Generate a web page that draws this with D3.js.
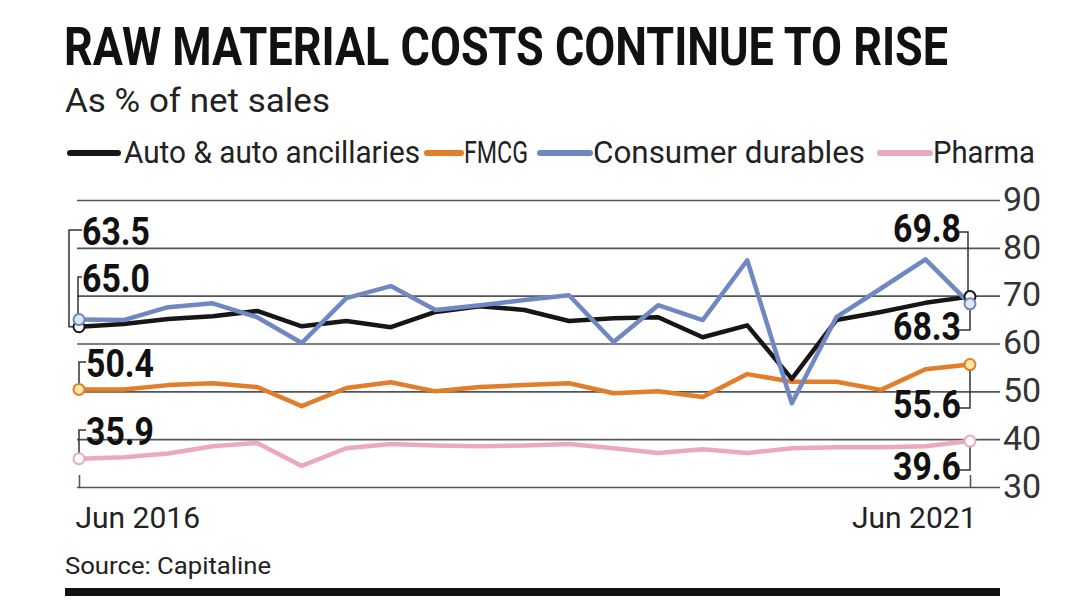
<!DOCTYPE html>
<html>
<head>
<meta charset="utf-8">
<script src="https://cdn.jsdelivr.net/npm/d3@7"></script>
<style>
  body { margin: 0; background: #fff; }
  text { font-family: Roboto, "Liberation Sans", sans-serif; }
</style>
</head>
<body>
<svg id="chart" width="1090" height="613"></svg>
<script>
// quarters Jun 2016 .. Jun 2021
var quarters = d3.range(21);
var xLabels = ["Jun 2016", "Jun 2021"];
var yTicks = [30, 40, 50, 60, 70, 80, 90];

var seriesNames = ["Auto & auto ancillaries", "FMCG", "Consumer durables", "Pharma"];
var auto = [63.5, 64.1, 65.1, 65.7, 66.8, 63.6, 64.7, 63.4, 66.6, 67.8, 67.0, 64.7, 65.3, 65.5, 61.3, 63.8, 52.6, 64.9, 66.6, 68.5, 69.8];
var fmcg = [50.4, 50.4, 51.3, 51.7, 50.9, 46.9, 50.7, 51.9, 50.0, 50.9, 51.3, 51.7, 49.6, 50.0, 48.8, 53.6, 52.0, 52.0, 50.3, 54.6, 55.6];
var durables = [65.0, 64.9, 67.6, 68.4, 65.5, 60.1, 69.5, 72.0, 67.0, 68.0, 69.1, 70.1, 60.3, 68.0, 64.9, 77.4, 47.5, 65.5, 71.5, 77.6, 68.3];
var pharma = [35.9, 36.2, 37.0, 38.5, 39.2, 34.4, 38.1, 39.0, 38.7, 38.5, 38.7, 39.0, 38.1, 37.1, 37.9, 37.1, 38.1, 38.3, 38.3, 38.5, 39.6];

var svg = d3.select("#chart");
var colors = ["#161616", "#e27d2a", "#6f87c2", "#eba9bb"];
var fills = ["#fff", "#fde9a6", "#dfe6f4", "#fff"];
var allSeries = [auto, fmcg, durables, pharma];

var x = d3.scaleLinear().domain([0, 20]).range([79, 970]);
var y = d3.scaleLinear().domain([30, 90]).range([487, 200]);

// title block
svg.append("g").attr("transform", "translate(64,65) scale(1,1.12)")
  .append("text").attr("x", 0).attr("y", 0)
  .attr("font-size", 48).attr("font-weight", "bold").attr("fill", "#111")
  .attr("textLength", 884).attr("lengthAdjust", "spacingAndGlyphs")
  .text("RAW MATERIAL COSTS CONTINUE TO RISE");
svg.append("text").attr("x", 65).attr("y", 112)
  .attr("font-size", 34).attr("fill", "#222")
  .attr("textLength", 265).attr("lengthAdjust", "spacingAndGlyphs")
  .text("As % of net sales");

// legend
var legendPos = [[70, 118, 124, 296], [427, 461, 464, 64], [540, 590, 593, 272], [880, 930, 933, 102]];
seriesNames.forEach(function(name, i) {
  var p = legendPos[i];
  svg.append("line").attr("x1", p[0]).attr("x2", p[1]).attr("y1", 153).attr("y2", 153)
    .attr("stroke", colors[i]).attr("stroke-width", 6).attr("stroke-linecap", "round");
  svg.append("text").attr("x", p[2]).attr("y", 163)
    .attr("font-size", 31).attr("fill", "#222")
    .attr("textLength", p[3]).attr("lengthAdjust", "spacingAndGlyphs")
    .text(name);
});

// gridlines + right axis
var yAxis = svg.append("g").attr("transform", "translate(77,0)")
  .call(d3.axisRight(y).tickValues(yTicks).tickSize(923).tickPadding(3));
yAxis.select(".domain").remove();
yAxis.selectAll("line").attr("stroke", "#555").attr("stroke-width", 1.6);
yAxis.selectAll("text").attr("font-size", 34).attr("fill", "#333")
  .attr("font-family", null).attr("dy", "0.3em");

// x axis labels
var xAxis = svg.append("g").attr("transform", "translate(0," + y(30) + ")")
  .call(d3.axisBottom(x).tickValues([0, 20]).tickSize(-12).tickPadding(20)
    .tickFormat(function(d, i) { return xLabels[i]; }));
xAxis.select(".domain").remove();
xAxis.selectAll("line").attr("stroke", "#555").attr("stroke-width", 1.6);
xAxis.selectAll("text").attr("font-size", 30).attr("fill", "#222").attr("font-family", null)
  .attr("text-anchor", function(d, i) { return i === 0 ? "start" : "end"; })
  .attr("dx", function(d, i) { return i === 0 ? -4 : 6; });

// lines
var line = d3.line().x(function(d, i) { return x(i); }).y(function(d) { return y(d); });
var drawOrder = [3, 1, 0, 2];
drawOrder.forEach(function(i) {
  svg.append("path").datum(allSeries[i]).attr("d", line)
    .attr("fill", "none").attr("stroke", colors[i]).attr("stroke-width", 4.5)
    .attr("stroke-linejoin", "round");
});

// value annotations with brackets
var ann = [
  // series, index, label y, label x, anchor, bracket x
  [0, 0, 245, 82, "start", 69],
  [2, 0, 292, 82, "start", 78],
  [1, 0, 377, 86, "start", 79],
  [3, 0, 445, 86, "start", 79],
  [0, 20, 242, 961, "end", 968],
  [2, 20, 340, 961, "end", 970],
  [1, 20, 418, 961, "end", 970],
  [3, 20, 480, 961, "end", 970]
];
ann.forEach(function(a) {
  var v = allSeries[a[0]][a[1]];
  var cy = y(v), cx = x(a[1]);
  var tickY = a[4] === "start" ? a[2] - 15 : a[2] - 10;
  var d;
  if (a[4] === "start") d = "M" + (a[3]) + "," + tickY + "H" + a[5] + "V" + cy + "H" + cx;
  else d = "M" + (a[3] - 2) + "," + tickY + "H" + a[5] + "V" + cy;
  svg.append("path").attr("d", d).attr("fill", "none").attr("stroke", "#333").attr("stroke-width", 1.5);
  svg.append("text").attr("x", a[3]).attr("y", a[2]).attr("text-anchor", a[4])
    .attr("font-size", 38).attr("font-weight", "bold").attr("fill", "#111")
    .attr("textLength", 68).attr("lengthAdjust", "spacingAndGlyphs")
    .text(d3.format(".1f")(v));
});

// end markers
allSeries.forEach(function(s, i) {
  [0, 20].forEach(function(k) {
    svg.append("circle").attr("cx", x(k)).attr("cy", y(s[k])).attr("r", 5.5)
      .attr("fill", fills[i]).attr("stroke", colors[i]).attr("stroke-width", 2);
  });
});

// source + bottom rule
svg.append("text").attr("x", 65).attr("y", 574).attr("font-size", 24).attr("fill", "#222")
  .attr("textLength", 206).attr("lengthAdjust", "spacingAndGlyphs")
  .text("Source: Capitaline");
svg.append("rect").attr("x", 65).attr("y", 588).attr("width", 935).attr("height", 8).attr("fill", "#111");
</script>
</body>
</html>
